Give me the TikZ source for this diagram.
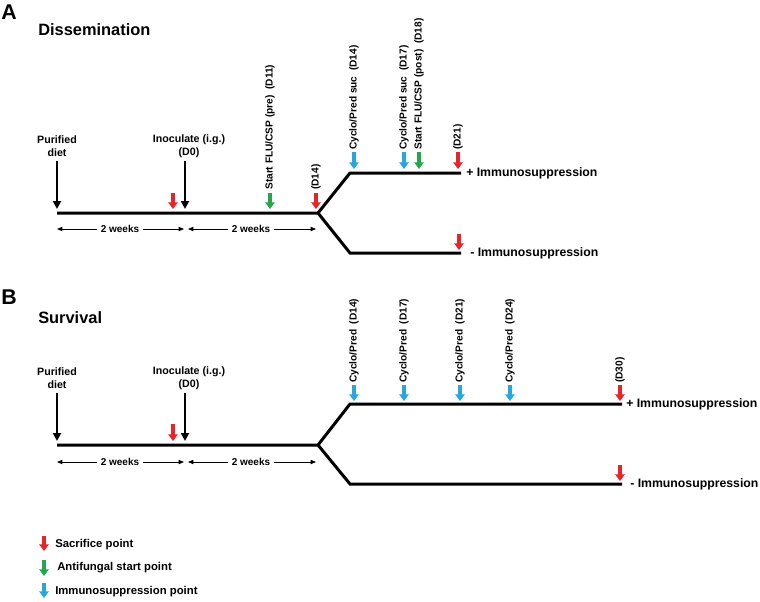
\documentclass[tikz,border=0pt]{standalone}
\usepackage{fontspec}
\setmainfont{Liberation Sans}
\usetikzlibrary{arrows.meta}

\definecolor{sacred}{RGB}{232,36,40}
\definecolor{fungreen}{RGB}{38,166,76}
\definecolor{immblue}{RGB}{40,166,222}

\begin{document}
\begin{tikzpicture}[x=0.75pt,y=-0.75pt,
    timeline/.style={line width=2.25pt},
    pointer/.style={line width=2.3pt,-{Triangle[width=7pt,length=5pt]}},
    blackpointer/.style={line width=1.5pt,-{Triangle[width=6pt,length=6pt]}},
    weekspan/.style={line width=0.6pt,{Triangle[width=3.2pt,length=4pt]}-{Triangle[width=3.2pt,length=4pt]}},
    lbl/.style={font=\fontsize{8}{9.6}\selectfont\bfseries,align=center,inner sep=0pt},
    rotlbl/.style={rotate=90,anchor=west,font=\fontsize{7.6}{9}\selectfont\bfseries,inner sep=0pt},
    wk/.style={font=\fontsize{7.5}{9}\selectfont\bfseries,fill=white,inner xsep=3pt,inner ysep=0pt},
    arm/.style={font=\fontsize{9.2}{11}\selectfont\bfseries,anchor=west,inner sep=0pt},
    panel/.style={font=\fontsize{16}{18}\selectfont\bfseries,inner sep=0pt},
    ttl/.style={font=\fontsize{12.3}{14}\selectfont\bfseries,anchor=west,inner sep=0pt},
    key/.style={font=\fontsize{8.5}{10}\selectfont\bfseries,anchor=west,inner sep=0pt}]
  \useasboundingbox (0,0) rectangle (760,601);

  % panel A
  \node[panel] (A) at (9,12) {A};
  \node[ttl] (tA) at (38,30) {Dissemination};
  \coordinate (a0) at (57,213);
  \coordinate (a1) at (318,213);
  \coordinate (a2) at (350,173);
  \coordinate (a3) at (461,173);
  \coordinate (a4) at (350,253);
  \coordinate (a5) at (461,253);
  \draw[timeline] (a0) -- (a1) -- (a2) -- (a3);
  \draw[timeline] (a1) -- (a4) -- (a5);
  \node[lbl] (dietA) at (57,146) {Purified\\diet};
  \node[lbl] (inocA) at (189,146) {Inoculate (i.g.)\\(D0)};
  \draw[blackpointer] (57,161) -- (57,209);
  \draw[blackpointer] (185,161) -- (185,209);
  \draw[pointer,sacred] (173,193) -- (173,209);
  \draw[pointer,fungreen] (270,193) -- (270,209);
  \draw[pointer,sacred] (316,193) -- (316,209);
  \draw[pointer,immblue] (354,152) -- (354,169);
  \draw[pointer,immblue] (404,152) -- (404,169);
  \draw[pointer,fungreen] (419,152) -- (419,169);
  \draw[pointer,sacred] (458,152) -- (458,169);
  \draw[pointer,sacred] (459,234) -- (459,250);
  \node[rotlbl] (d11) at (270,190) {Start FLU/CSP (pre)\ \ (D11)};
  \node[rotlbl] (d14a) at (316,190) {(D14)};
  \node[rotlbl] (cyA1) at (354,150) {Cyclo/Pred suc\ \ (D14)};
  \node[rotlbl] (cyA2) at (404,150) {Cyclo/Pred suc\ \ (D17)};
  \node[rotlbl] (d18) at (419,150) {Start FLU/CSP (post)\ \ (D18)};
  \node[rotlbl] (d21) at (458,150) {(D21)};
  \node[arm] (plusA) at (466,173) {+ Immunosuppression};
  \node[arm] (minusA) at (470,253) {- Immunosuppression};
  \draw[weekspan] (57,229) -- (184,229);
  \draw[weekspan] (188,229) -- (316,229);
  \node[wk] (wA1) at (120,229) {2 weeks};
  \node[wk] (wA2) at (251,229) {2 weeks};

  % panel B
  \node[panel] (B) at (9,297) {B};
  \node[ttl] (tB) at (38,318) {Survival};
  \coordinate (b0) at (57,445);
  \coordinate (b1) at (318,445);
  \coordinate (b2) at (350,404);
  \coordinate (b3) at (622,404);
  \coordinate (b4) at (350,484);
  \coordinate (b5) at (622,484);
  \draw[timeline] (b0) -- (b1) -- (b2) -- (b3);
  \draw[timeline] (b1) -- (b4) -- (b5);
  \node[lbl] (dietB) at (57,378) {Purified\\diet};
  \node[lbl] (inocB) at (189,378) {Inoculate (i.g.)\\(D0)};
  \draw[blackpointer] (57,393) -- (57,441);
  \draw[blackpointer] (185,393) -- (185,441);
  \draw[pointer,sacred] (173,424) -- (173,441);
  \foreach \x/\d in {354/14,404/17,460/21,510/24} {
    \draw[pointer,immblue] (\x,385) -- (\x,401);
    \node[rotlbl] (cyB\d) at (\x,383) {Cyclo/Pred\ \ (D\d)};
  }
  \draw[pointer,sacred] (620,385) -- (620,401);
  \draw[pointer,sacred] (620,465) -- (620,481);
  \node[rotlbl] (d30) at (620,383) {(D30)};
  \node[arm] (plusB) at (626,404) {+ Immunosuppression};
  \node[arm] (minusB) at (630,484) {- Immunosuppression};
  \draw[weekspan] (57,462) -- (184,462);
  \draw[weekspan] (188,462) -- (316,462);
  \node[wk] (wB1) at (120,462) {2 weeks};
  \node[wk] (wB2) at (251,462) {2 weeks};

  % key
  \draw[pointer,sacred] (44,536) -- (44,551);
  \draw[pointer,fungreen] (44,560) -- (44,576);
  \draw[pointer,immblue] (44,583) -- (44,598);
  \node[key] (k1) at (55,545) {Sacrifice point};
  \node[key] (k2) at (57,568) {Antifungal start point};
  \node[key] (k3) at (55,592) {Immunosuppression point};
\end{tikzpicture}
\end{document}
